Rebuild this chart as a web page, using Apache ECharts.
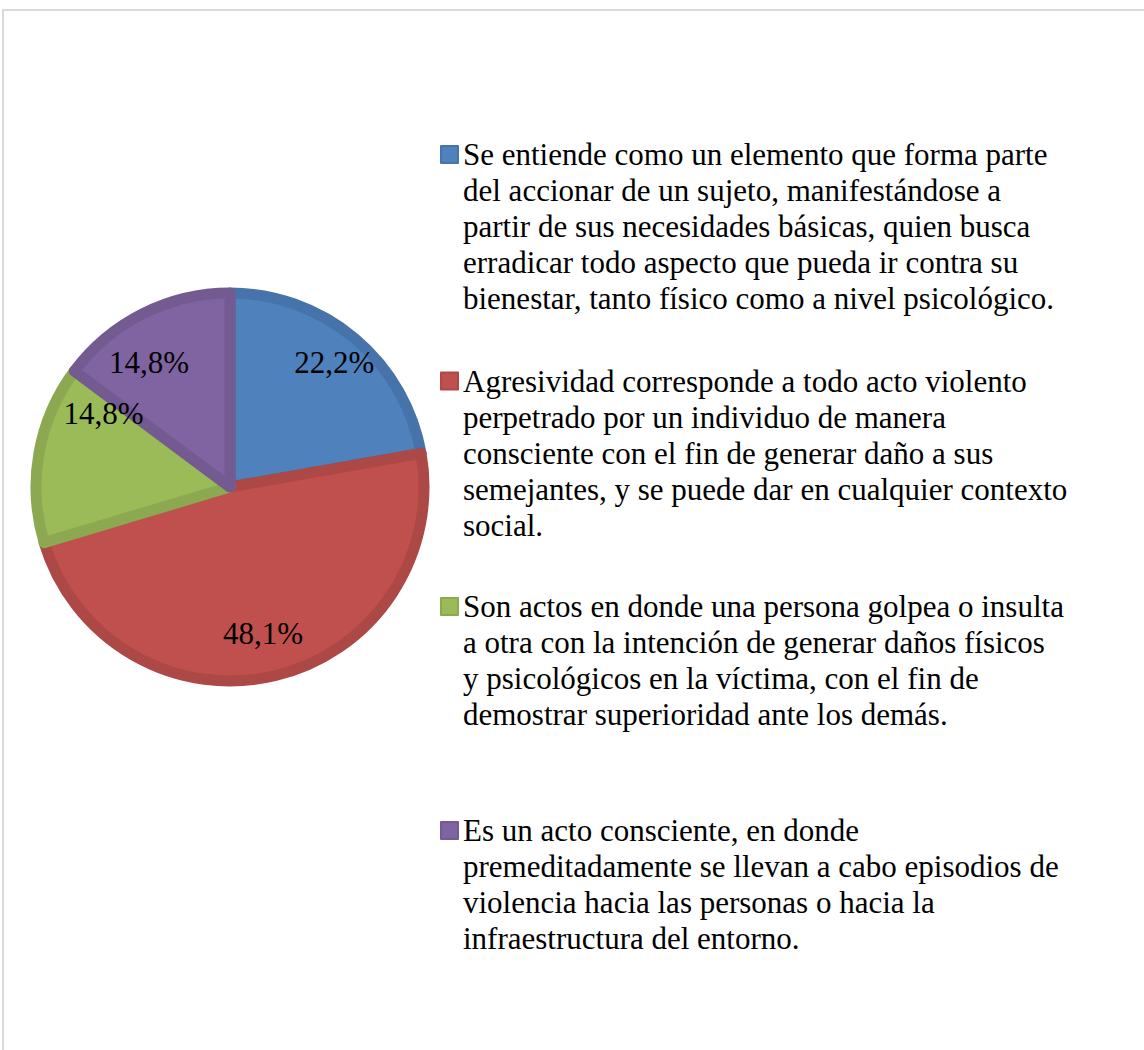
<!DOCTYPE html>
<html>
<head>
<meta charset="utf-8">
<script src="https://cdn.jsdelivr.net/npm/echarts@6/dist/echarts.min.js"></script>
<style>
html,body{margin:0;padding:0;background:#fff;}
#c{width:1144px;height:1050px;}
</style>
</head>
<body>
<div id="c"></div>
<script>
// ---- data ----
const categoryLines = [
  ["Se entiende como un elemento que forma parte",
   "del accionar de un sujeto, manifestándose a",
   "partir de sus necesidades básicas, quien busca",
   "erradicar todo aspecto que pueda ir contra su",
   "bienestar, tanto físico como a nivel psicológico."],
  ["Agresividad corresponde a todo acto violento",
   "perpetrado por un individuo de manera",
   "consciente con el fin de generar daño a sus",
   "semejantes, y se puede dar en cualquier contexto",
   "social."],
  ["Son actos en donde una persona golpea o insulta",
   "a otra con la intención de generar daños físicos",
   "y psicológicos en la víctima, con el fin de",
   "demostrar superioridad ante los demás."],
  ["Es un acto consciente, en donde",
   "premeditadamente se llevan a cabo episodios de",
   "violencia hacia las personas o hacia la",
   "infraestructura del entorno."]
];
const percentValues = [22.2, 48.1, 14.8, 14.8];

// ---- styling ----
const fillColors = ['#4F81BD', '#C0504D', '#9BBB59', '#8064A2'];
const edgeColors = ['#4673AA', '#AC4846', '#8CA951', '#735A91'];
const labelNudges = [[40, -48], [10, 49], [-28, -56], [-36, -35]];
const legendIconCenters = [153.5, 380, 605.5, 829.5];
const LINE_H = 36;
const FONT = '"Liberation Serif", "Times New Roman", serif';

const names = categoryLines.map(l => l.join(' '));
const lineMap = {};
names.forEach((n, i) => { lineMap[n] = categoryLines[i]; });

const legends = names.map((n, i) => {
  const k = categoryLines[i].length;
  const H = k * LINE_H;
  // square at the first line; bare move-to points stretch the icon box to the text block height
  const iconPath = 'path://M0,0M17,' + H + 'M0,' + (LINE_H / 2 - 8.5) + 'h17v17h-17z';
  return {
    data: [{name: n, icon: iconPath}],
    orient: 'vertical',
    left: 440,
    top: legendIconCenters[i] - LINE_H / 2,
    padding: 0,
    itemWidth: 17,
    itemHeight: H,
    selectedMode: false,
    formatter: name => lineMap[name].join('\n'),
    textStyle: {
      fontFamily: FONT,
      fontSize: 31,
      lineHeight: LINE_H,
      color: '#000'
    }
  };
});

const chart = echarts.init(document.getElementById('c'), null, {renderer: 'svg'});
chart.setOption({
  animation: false,
  backgroundColor: '#fff',
  graphic: [{
    type: 'rect',
    shape: {x: 3, y: 10, width: 1300, height: 1200},
    style: {fill: 'none', stroke: '#d9d9d9', lineWidth: 2},
    silent: true
  }],
  legend: legends,
  series: [{
    type: 'pie',
    center: [230, 487],
    radius: 194,
    startAngle: 90,
    clockwise: true,
    silent: true,
    emphasis: {disabled: true},
    labelLine: {show: false},
    data: names.map((n, i) => ({
      name: n,
      value: percentValues[i],
      itemStyle: {color: fillColors[i], borderColor: edgeColors[i], borderWidth: 11},
      label: {offset: labelNudges[i]}
    })),
    label: {
      show: true,
      position: 'inside',
      fontFamily: FONT,
      fontSize: 31,
      color: '#000',
      formatter: p => p.value.toFixed(1).replace('.', ',') + '%'
    }
  }]
});
</script>
</body>
</html>
